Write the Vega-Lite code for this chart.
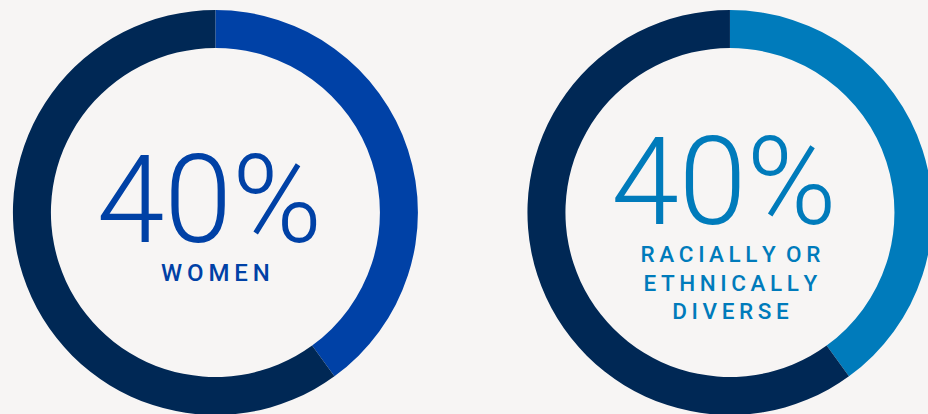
{
  "$schema": "https://vega.github.io/schema/vega-lite/v6.json",
  "width": 928,
  "height": 414,
  "autosize": {"type": "none"},
  "padding": 0,
  "background": "#f7f5f4",
  "config": {"view": {"stroke": null}},
  "datasets": {
    "segments": [
      {"group": "Women", "part": "Women", "value": 40, "order": 1},
      {"group": "Women", "part": "Other", "value": 60, "order": 2},
      {"group": "Diverse", "part": "Racially or ethnically diverse", "value": 40, "order": 1},
      {"group": "Diverse", "part": "Other", "value": 60, "order": 2}
    ],
    "labels": [
      {"group": "Women", "kind": "pct", "text": "40%"},
      {"group": "Diverse", "kind": "pct", "text": "40%"},
      {"group": "Women", "kind": "label", "text": "W\u2009O\u2009M\u2009E\u2009N"},
      {"group": "Diverse", "kind": "label", "text": ["R\u2009A\u2009C\u2009I\u2009A\u2009L\u2009L\u2009Y\u00a0\u2009O\u2009R", "E\u2009T\u2009H\u2009N\u2009I\u2009C\u2009A\u2009L\u2009L\u2009Y", "D\u2009I\u2009V\u2009E\u2009R\u2009S\u2009E"]}
    ]
  },
  "encoding": {
    "x": {"field": "group", "type": "nominal", "scale": {"type": "point", "domain": ["Women", "Diverse"], "padding": 0.4018, "align": 0.521}, "axis": null},
    "y": {"datum": "c", "type": "nominal", "scale": {"type": "point", "domain": ["c"], "align": 0.5133}, "axis": null}
  },
  "layer": [
    {
      "data": {"name": "segments"},
      "transform": [{"stack": "value", "groupby": ["group"], "sort": [{"field": "order", "order": "ascending"}], "as": ["start", "end"]}],
      "mark": {"type": "arc", "outerRadius": 202.5, "innerRadius": 164.5},
      "encoding": {
        "theta": {"field": "start", "type": "quantitative", "scale": {"domain": [0, 100]}, "stack": null},
        "theta2": {"field": "end"},
        "color": {"field": "part", "type": "nominal", "scale": {"domain": ["Women", "Racially or ethnically diverse", "Other"], "range": ["#0041a6", "#007bbb", "#002855"]}, "legend": null}
      }
    },
    {
      "data": {"name": "labels"},
      "transform": [{"filter": "datum.group == 'Women' && datum.kind == 'pct'"}],
      "mark": {"type": "text", "font": "Roboto", "fontSize": 122, "fontWeight": 300, "color": "#0041a6", "align": "center", "baseline": "alphabetic", "dx": -6, "dy": 29.5},
      "encoding": {"text": {"field": "text"}}
    },
    {
      "data": {"name": "labels"},
      "transform": [{"filter": "datum.group == 'Diverse' && datum.kind == 'pct'"}],
      "mark": {"type": "text", "font": "Roboto", "fontSize": 122, "fontWeight": 300, "color": "#007bbb", "align": "center", "baseline": "alphabetic", "dx": -6, "dy": 11.5},
      "encoding": {"text": {"field": "text"}}
    },
    {
      "data": {"name": "labels"},
      "transform": [{"filter": "datum.group == 'Women' && datum.kind == 'label'"}],
      "mark": {"type": "text", "font": "Roboto", "fontSize": 24, "fontWeight": 500, "color": "#0041a6", "align": "center", "baseline": "alphabetic", "dx": 0, "dy": 68.5},
      "encoding": {"text": {"field": "text"}}
    },
    {
      "data": {"name": "labels"},
      "transform": [{"filter": "datum.group == 'Diverse' && datum.kind == 'label'"}],
      "mark": {"type": "text", "font": "Roboto", "fontSize": 22.5, "fontWeight": 500, "color": "#007bbb", "align": "center", "baseline": "alphabetic", "lineHeight": 28.8, "dx": 0.5, "dy": 49.2},
      "encoding": {"text": {"field": "text"}}
    }
  ]
}
